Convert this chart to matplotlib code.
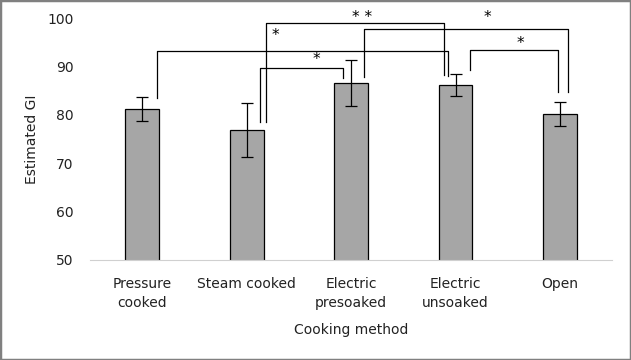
import matplotlib.pyplot as plt
from matplotlib.patches import Rectangle

methods = ["Pressure\ncooked", "Steam cooked", "Electric\npresoaked", "Electric\nunsoaked", "Open"]
gi_mean = [81.3, 76.8, 86.6, 86.2, 80.2]
gi_err = [2.5, 5.6, 4.8, 2.35, 2.5]

# significance brackets: (left bar, right bar, label)
pairs = [(0, 3, "*"), (1, 3, "* *"), (2, 4, "*"), (1, 2, "*"), (3, 4, "*")]
# bracket geometry: x offsets from bar centres, top y, drop ends, star position
bracket_dx = [(0.14, -0.07), (0.18, -0.11), (0.12, 0.08), (0.13, -0.08), (0.14, -0.02)]
bracket_top = [93.3, 99.1, 97.8, 89.7, 93.5]
bracket_ends = [(83.5, 88.0), (78.6, 88.3), (87.9, 84.8), (78.6, 87.7), (89.3, 84.8)]
star_pos = [(1.27, 96.4), (2.105, 100.1), (3.31, 100.1), (1.665, 91.4), (3.62, 94.7)]

fig = plt.figure(figsize=(6.31, 3.6), dpi=100)
ax = fig.add_axes([0.143, 0.278, 0.827, 0.671])

x = range(len(methods))
ax.bar(x, gi_mean, width=0.325, color="#a6a6a6", edgecolor="black", linewidth=0.9)
ax.errorbar(x, gi_mean, yerr=gi_err, fmt="none", ecolor="black", elinewidth=0.9,
            capsize=4, capthick=0.9)

for (a, b, lab), (da, db), top, (ea, eb), (sx, sy) in zip(pairs, bracket_dx, bracket_top,
                                                          bracket_ends, star_pos):
    xa, xb = a + da, b + db
    ax.plot([xa, xa, xb, xb], [ea, top, top, eb], color="black", lw=0.9, clip_on=False)
    ax.text(sx, sy, lab, ha="center", va="center", fontsize=11, clip_on=False)

ax.set_xlim(-0.5, 4.5)
ax.set_ylim(50, 100)
ax.set_yticks(range(50, 101, 10))
ax.set_xticks(list(x))
ax.set_xticklabels(methods, fontsize=10, color="#222222", linespacing=1.45)
ax.tick_params(axis="y", labelsize=10, colors="#222222", length=0, pad=12)
ax.tick_params(axis="x", length=0, pad=12)
for s in ["top", "right", "left"]:
    ax.spines[s].set_visible(False)
ax.spines["bottom"].set_color("#d0d0d0")
ax.set_ylabel("Estimated GI", fontsize=10, color="#222222", labelpad=6)
ax.set_xlabel("Cooking method", fontsize=10, color="#222222", labelpad=10)

fig.patches.append(Rectangle((0, 0), 1, 1, transform=fig.transFigure, fill=False,
                             edgecolor="#808080", linewidth=2.5))

fig.savefig("out.png", dpi=100)
